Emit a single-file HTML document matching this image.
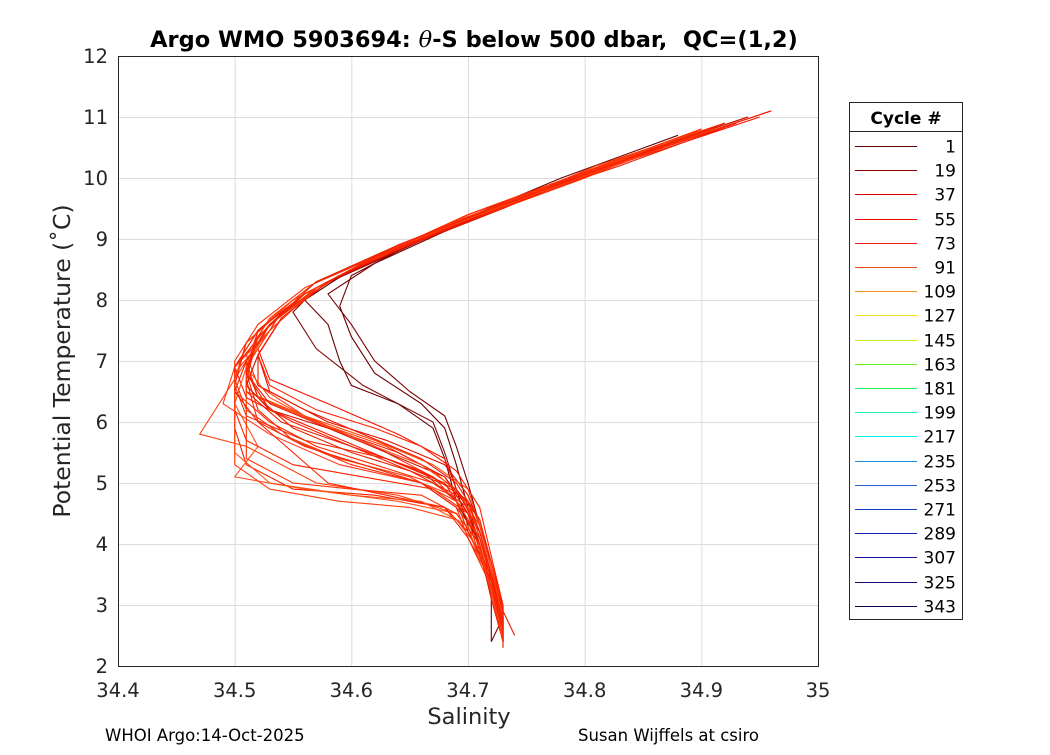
<!DOCTYPE html>
<html><head><meta charset="utf-8"><style>
body{margin:0;background:#fff;width:1050px;height:750px;overflow:hidden}
svg text{font-family:"DejaVu Sans","Liberation Sans",sans-serif}
</style></head><body>
<svg id="c" width="1050" height="750">
<rect x="118" y="56" width="700" height="610" fill="#fff"/>
<g id="grid"></g><g id="lines"></g>
<rect x="118.5" y="56.5" width="700" height="610" fill="none" stroke="#262626" stroke-width="1"/>
<g id="ticks"></g>
<text x="474" y="47" text-anchor="middle" font-size="22.5" font-weight="bold" fill="#000" xml:space="preserve">Argo WMO 5903694: <tspan font-style="italic" font-weight="normal" font-family="DejaVu Serif,serif">θ</tspan>-S below 500 dbar,  QC=(1,2)</text>
<text x="469" y="724" text-anchor="middle" font-size="22.5" fill="#262626">Salinity</text>
<text transform="translate(70,361) rotate(-90)" text-anchor="middle" font-size="23.5" fill="#262626">Potential Temperature (˚C)</text>
<text x="105" y="741" font-size="16.5" fill="#000">WHOI Argo:14-Oct-2025</text>
<text x="578" y="741" font-size="16.5" fill="#000">Susan Wijffels at csiro</text>
<g>
<rect x="849.5" y="102.5" width="113" height="517" fill="#fff" stroke="#262626"/>
<line x1="849.5" y1="131.5" x2="962.5" y2="131.5" stroke="#262626"/>
<text x="906" y="124" text-anchor="middle" font-size="17" font-weight="bold">Cycle #</text>
<g id="leg"></g></g>
</svg>
<script>
const xTicks=[34.4,34.5,34.6,34.7,34.8,34.9,35];
const yTicks=[2,3,4,5,6,7,8,9,10,11,12];
const legendCycles=[1,19,37,55,73,91,109,127,145,163,181,199,217,235,253,271,289,307,325,343];
const legendColors=["#5a0000","#8e0000","#d40000","#e80000","#f02010","#e84a10","#f09020","#f0e020","#c0f020","#60f020","#20f060","#20f0b0","#00f0f0","#2090e0","#2060d0","#1040c8","#1020b8","#1010a0","#100878","#080850"];
const profileColors=["#6a0000","#7a0000","#800808","#6a0000","#ff1a00","#ff3000","#f02000","#ff4010","#e01000","#ff2800","#ff5020","#ff1000","#f03010","#ff3818","#e82000","#ff2000","#ff4400","#d01000","#ff3000","#ff5010","#f01800","#ff2a00","#ff3a08","#e81800","#ff2200","#ff4818","#f02800","#ff1800","#ff3000","#e82800","#ff4010","#ff2000"];
const profiles=[
"34.96,11.1 34.85,10.4 34.75,9.7 34.66,9.0 34.6,8.4 34.59,7.9 34.6,7.4 34.62,6.8 34.66,6.3 34.68,5.9 34.69,5.3 34.7,4.6 34.71,3.9 34.72,3.2 34.73,2.5",
"34.9,10.8 34.8,10.1 34.7,9.3 34.62,8.6 34.58,8.1 34.6,7.6 34.62,7.0 34.65,6.5 34.68,6.1 34.69,5.6 34.7,5.0 34.71,4.3 34.72,3.6 34.73,2.8 34.72,2.4",
"34.93,10.9 34.82,10.2 34.72,9.5 34.64,8.8 34.57,8.2 34.55,7.8 34.57,7.2 34.61,6.6 34.67,6.0 34.68,5.5 34.69,4.9 34.7,4.3 34.71,3.7 34.73,2.9 34.73,2.4",
"34.88,10.7 34.78,10.0 34.68,9.2 34.6,8.5 34.56,8.0 34.58,7.6 34.59,7.0 34.6,6.6 34.64,6.3 34.67,5.9 34.68,5.4 34.69,4.7 34.71,4.0 34.72,3.1 34.72,2.4",
"34.96,11.1 34.85,10.4 34.74,9.6 34.66,9.0 34.6,8.5 34.55,8.0 34.52,7.5 34.5,6.9 34.51,6.4 34.55,6.0 34.6,5.6 34.65,5.2 34.69,4.8 34.71,4.2 34.72,3.5 34.73,2.9 34.73,2.4",
"34.93,10.9 34.82,10.2 34.72,9.5 34.63,8.8 34.57,8.3 34.53,7.7 34.51,7.1 34.52,6.6 34.56,6.1 34.62,5.6 34.67,5.1 34.7,4.5 34.71,3.9 34.72,3.2 34.73,2.5",
"34.9,10.8 34.8,10.1 34.7,9.4 34.62,8.7 34.56,8.1 34.52,7.5 34.5,6.9 34.5,6.4 34.5,5.9 34.51,5.3 34.55,4.9 34.62,4.8 34.68,4.6 34.7,4.2 34.72,3.5 34.73,2.8 34.73,2.4",
"34.91,10.8 34.81,10.1 34.71,9.4 34.63,8.8 34.57,8.2 34.53,7.6 34.51,7.0 34.47,5.8 34.51,5.6 34.57,5.0 34.64,4.8 34.69,4.5 34.71,4.0 34.72,3.2 34.73,2.5",
"34.94,11.0 34.83,10.3 34.73,9.6 34.65,8.9 34.58,8.3 34.54,7.7 34.52,7.1 34.53,6.5 34.58,6.0 34.63,5.7 34.68,5.3 34.7,4.8 34.71,4.3 34.72,3.6 34.73,2.9 34.73,2.4",
"34.9,10.8 34.8,10.0 34.7,9.3 34.62,8.7 34.56,8.1 34.52,7.4 34.51,6.8 34.52,6.2 34.55,5.7 34.6,5.3 34.66,5.0 34.69,4.6 34.7,4.1 34.72,3.4 34.73,2.6",
"34.92,10.9 34.82,10.2 34.72,9.5 34.64,8.9 34.58,8.3 34.53,7.6 34.51,6.9 34.5,6.3 34.52,5.6 34.5,5.1 34.56,4.9 34.64,4.7 34.69,4.5 34.71,4.0 34.72,3.3 34.73,2.6",
"34.95,11.0 34.84,10.3 34.74,9.6 34.65,8.9 34.59,8.4 34.54,7.8 34.52,7.2 34.53,6.7 34.58,6.3 34.64,5.8 34.68,5.4 34.69,4.9 34.71,4.2 34.72,3.5 34.73,2.7",
"34.89,10.7 34.79,10.0 34.69,9.3 34.61,8.6 34.55,8.0 34.51,7.3 34.5,6.6 34.51,6.1 34.56,5.7 34.63,5.4 34.68,5.0 34.7,4.4 34.71,3.8 34.73,3.0 34.73,2.4",
"34.91,10.8 34.81,10.1 34.71,9.4 34.63,8.8 34.57,8.2 34.53,7.5 34.5,6.9 34.49,6.3 34.53,5.8 34.59,5.3 34.66,5.0 34.7,4.7 34.71,4.1 34.72,3.4 34.73,2.6",
"34.93,10.9 34.83,10.2 34.72,9.5 34.64,8.9 34.57,8.3 34.53,7.6 34.51,7.0 34.51,6.5 34.54,6.0 34.6,5.6 34.66,5.2 34.69,4.7 34.7,4.2 34.72,3.4 34.73,2.8 34.73,2.3",
"34.9,10.8 34.8,10.1 34.7,9.4 34.62,8.7 34.56,8.1 34.52,7.4 34.51,6.7 34.52,6.0 34.55,5.5 34.58,5.0 34.63,4.8 34.68,4.6 34.7,4.1 34.72,3.3 34.73,2.5",
"34.92,10.9 34.82,10.2 34.71,9.4 34.63,8.8 34.57,8.2 34.53,7.6 34.51,7.0 34.51,6.5 34.56,6.1 34.62,5.7 34.67,5.3 34.7,4.9 34.71,4.3 34.72,3.7 34.73,2.9 34.73,2.4",
"34.94,11.0 34.83,10.3 34.73,9.5 34.65,8.9 34.58,8.3 34.54,7.7 34.52,7.1 34.51,6.6 34.53,6.2 34.58,5.9 34.63,5.5 34.68,5.1 34.7,4.6 34.71,4.0 34.72,3.3 34.73,2.6",
"34.9,10.8 34.8,10.0 34.7,9.3 34.61,8.6 34.55,8.0 34.51,7.3 34.5,6.7 34.51,6.2 34.54,5.8 34.59,5.4 34.65,5.1 34.69,4.7 34.71,4.1 34.72,3.5 34.73,2.8",
"34.91,10.8 34.81,10.1 34.71,9.4 34.63,8.8 34.57,8.2 34.53,7.5 34.5,6.8 34.5,6.2 34.5,5.5 34.53,5.0 34.6,4.8 34.66,4.7 34.7,4.3 34.71,3.7 34.73,2.9 34.73,2.4",
"34.93,10.9 34.82,10.2 34.72,9.5 34.64,8.9 34.58,8.3 34.54,7.7 34.52,7.1 34.52,6.6 34.56,6.2 34.61,5.8 34.66,5.4 34.69,5.0 34.71,4.4 34.72,3.6 34.73,2.9 34.74,2.5",
"34.9,10.8 34.8,10.1 34.7,9.4 34.62,8.7 34.56,8.2 34.52,7.6 34.5,7.0 34.5,6.5 34.53,6.0 34.57,5.6 34.62,5.3 34.67,5.0 34.7,4.6 34.71,4.0 34.72,3.3 34.73,2.6",
"34.92,10.9 34.81,10.2 34.71,9.4 34.63,8.8 34.57,8.2 34.53,7.5 34.51,6.9 34.52,6.4 34.57,6.0 34.63,5.6 34.67,5.2 34.7,4.7 34.71,4.1 34.72,3.4 34.73,2.7",
"34.91,10.8 34.8,10.1 34.7,9.3 34.62,8.7 34.56,8.1 34.52,7.4 34.51,6.8 34.53,6.3 34.58,5.9 34.64,5.5 34.68,5.1 34.7,4.5 34.71,3.9 34.72,3.1 34.73,2.4",
"34.93,10.9 34.82,10.2 34.72,9.5 34.63,8.8 34.57,8.2 34.53,7.6 34.5,6.9 34.5,6.2 34.51,5.7 34.55,5.3 34.61,5.1 34.67,4.9 34.7,4.5 34.71,3.9 34.73,3.0 34.73,2.4",
"34.9,10.8 34.79,10.0 34.69,9.3 34.61,8.6 34.55,8.0 34.52,7.5 34.51,6.9 34.53,6.4 34.57,6.0 34.62,5.6 34.66,5.3 34.69,4.9 34.71,4.3 34.72,3.6 34.73,2.8",
"34.92,10.9 34.82,10.2 34.72,9.5 34.63,8.8 34.57,8.2 34.53,7.6 34.51,7.0 34.5,6.5 34.52,6.0 34.56,5.6 34.61,5.3 34.66,5.0 34.69,4.6 34.71,4.1 34.72,3.4 34.73,2.6",
"34.91,10.8 34.81,10.1 34.71,9.4 34.62,8.7 34.56,8.1 34.52,7.5 34.51,6.8 34.53,6.2 34.58,5.8 34.63,5.4 34.67,5.1 34.7,4.7 34.71,4.2 34.72,3.5 34.73,2.7",
"34.9,10.8 34.8,10.1 34.7,9.4 34.62,8.7 34.56,8.1 34.52,7.4 34.51,6.7 34.51,6.0 34.51,5.4 34.55,5.0 34.6,4.9 34.66,4.8 34.69,4.5 34.71,4.0 34.72,3.2 34.73,2.4",
"34.92,10.9 34.82,10.2 34.72,9.5 34.63,8.8 34.57,8.2 34.53,7.6 34.51,7.0 34.52,6.4 34.55,5.9 34.6,5.5 34.65,5.2 34.69,4.9 34.71,4.4 34.72,3.7 34.73,3.0 34.73,2.3",
"34.91,10.8 34.81,10.1 34.71,9.4 34.63,8.8 34.57,8.2 34.53,7.5 34.5,6.8 34.5,6.0 34.5,5.3 34.53,4.9 34.59,4.7 34.65,4.6 34.69,4.4 34.71,3.9 34.72,3.2 34.73,2.5",
"34.93,10.9 34.82,10.2 34.72,9.5 34.64,8.9 34.58,8.3 34.54,7.7 34.52,7.1 34.53,6.6 34.57,6.2 34.62,5.9 34.66,5.6 34.69,5.2 34.71,4.6 34.72,3.8 34.73,3.0 34.73,2.4"
];
const NS="http://www.w3.org/2000/svg";
const X0=118,X1=818,Y0=666,Y1=56;
const sx=v=>X0+(v-34.4)/(35-34.4)*(X1-X0);
const sy=v=>Y0-(v-2)/(12-2)*(Y0-Y1);
function mk(t,a,parent){const e=document.createElementNS(NS,t);for(const k in a)e.setAttribute(k,a[k]);parent.appendChild(e);return e;}
const grid=document.getElementById('grid'),ticks=document.getElementById('ticks'),lines=document.getElementById('lines'),leg=document.getElementById('leg');
xTicks.forEach(v=>{
 const g=mk('line',{x1:sx(v)+0.5,x2:sx(v)+0.5,y1:Y1,y2:Y0,stroke:'#dcdcdc'},grid);
 
 
 const t=mk('text',{x:sx(v),y:697,'text-anchor':'middle','font-size':19.5,fill:'#262626'},ticks);t.textContent=v;
 
 
});
yTicks.forEach(v=>{
 const g=mk('line',{x1:X0,x2:X1,y1:sy(v)+0.5,y2:sy(v)+0.5,stroke:'#dcdcdc'},grid);
 
 
 const t=mk('text',{x:108,y:sy(v)+7,'text-anchor':'end','font-size':19.5,fill:'#262626'},ticks);t.textContent=v;
 
 
});
profiles.forEach((p,i)=>{
 const pts=p.split(' ').map(s=>s.split(',').map(Number)).map(([s,t])=>sx(s).toFixed(1)+','+sy(t).toFixed(1)).join(' ');
 const l=mk('polyline',{points:pts,fill:'none',stroke:profileColors[i%profileColors.length],'stroke-width':1.1},lines);
 
 
});
legendCycles.forEach((c,i)=>{
 const y=Math.round(146+i*24.2)+0.5;
 const l=mk('line',{x1:855,x2:917,y1:y,y2:y,stroke:legendColors[i],'stroke-width':1},leg);
 
 
 const t=mk('text',{x:956,y:y+6,'text-anchor':'end','font-size':17,fill:'#000'},leg);t.textContent=c;
 
 
});
</script>
</body></html>
